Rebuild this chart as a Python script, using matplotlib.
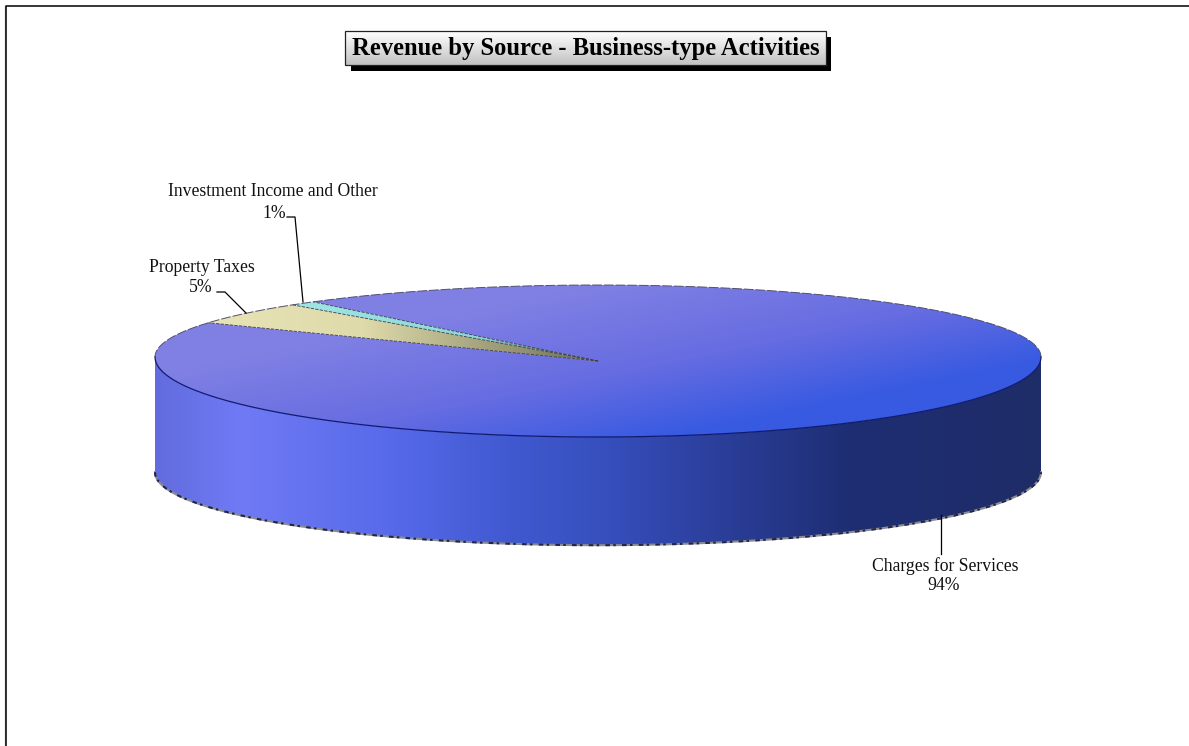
import numpy as np
from matplotlib import pyplot as plt
from matplotlib.patches import Polygon, Rectangle

labels = ['Charges for Services', 'Property Taxes', 'Investment Income and Other']
values = [94, 5, 1]
title = 'Revenue by Source - Business-type Activities'

# pie geometry in pixels, y grows downwards
# the near half of the ellipse is a bit deeper than the far half (perspective)
cx, cy = 598, 357
rx = 443
ry_far, ry_near = 72, 80
apex = [598, 361]
rim_cy, rim_ry = 472, 73
end_angle = 130.0  # where the charges slice begins

serif = ['Liberation Serif', 'DejaVu Serif']


def ramp(t, stops, cols):
    return np.stack([np.interp(t, stops, [c[i] for c in cols]) for i in range(3)], axis=-1) / 255.0


def arc(a0, a1, n=200):
    a = np.radians(np.linspace(a0, a1, n))
    s = np.sin(a)
    return np.column_stack([cx + rx * np.cos(a), cy - np.where(s > 0, ry_far, ry_near) * s])


def rim_arc(n=400):
    a = np.radians(np.linspace(180, 360, n))
    return np.column_stack([cx + rx * np.cos(a), rim_cy - rim_ry * np.sin(a)])


def paint(img, extent, poly):
    im = ax.imshow(img, extent=extent, aspect='auto', interpolation='bilinear', zorder=2)
    patch = Polygon(poly, closed=True, transform=ax.transData, facecolor='none', edgecolor='none')
    ax.add_patch(patch)
    im.set_clip_path(patch)


fig = plt.figure(figsize=(11.89, 7.46), dpi=100)
ax = fig.add_axes([0, 0, 1, 1])
ax.set_xlim(0, 1189)
ax.set_ylim(746, 0)
ax.axis('off')

# chart frame, only the top and left edges fall inside the image
ax.plot([4.5, 4.5], [6, 746], color='#b8b8b8', lw=1.0, zorder=1)
ax.plot([5.5, 5.5, 1189], [746, 5.5, 5.5], color='black', lw=1.1, zorder=1)

# side wall, shaded left to right
xs = np.linspace(cx - rx, cx + rx, 400)
wall_x = [155, 240, 400, 500, 600, 700, 850, 1041]
wall_cols = [(98, 108, 222), (112, 122, 245), (85, 105, 232), (66, 90, 210),
             (55, 80, 190), (45, 65, 160), (30, 46, 115), (30, 44, 104)]
wall_img = ramp(xs, wall_x, wall_cols)[None, :, :]
front = arc(180, 360)
rim = rim_arc()
wall = np.vstack([front, rim[::-1]])
paint(wall_img, (cx - rx, cx + rx, rim_cy + rim_ry, cy - ry_far), wall)

# bottom rim, a rough grey and dark edge
ax.plot(rim[:, 0], rim[:, 1] + 0.2, color='#8c8c8c', lw=1.5, zorder=3)
ax.plot(rim[:, 0], rim[:, 1] + 0.2, color='#1c2458', lw=1.5, ls=(0, (2.2, 1.6, 1.2, 3.0)), zorder=3)

# slice angles from the values
sweeps = np.array(values) / sum(values) * 360.0
start_inv = end_angle
stop_inv = start_inv + sweeps[2]
stop_tax = stop_inv + sweeps[1]

yy, xx = np.mgrid[0:1:200j, 0:1:500j]
top_cols = [(128, 128, 228), (102, 108, 225), (55, 90, 225)]
top_img = ramp(np.clip((1.2 * xx + yy - 0.6) / 1.1, 0, 1), [0, 0.55, 1], top_cols)
extent = (cx - rx, cx + rx, cy + ry_near, cy - ry_far)
centre = [apex]
paint(top_img, extent, np.vstack([centre, arc(stop_tax, end_angle + 360, 500)]))

# the two small slices lighten towards the rim
tax_cols = [(232, 228, 182), (222, 218, 170), (110, 110, 84)]
paint(ramp(np.tile(np.linspace(0, 1, 300), (10, 1)), [0, 0.4, 1], tax_cols),
      (cx - rx * 0.88, cx, cy + 5, cy - ry_far), np.vstack([centre, arc(stop_inv, stop_tax, 60)]))
inv_cols = [(160, 230, 230), (140, 215, 215), (70, 90, 80)]
paint(ramp(np.tile(np.linspace(0, 1, 300), (10, 1)), [0, 0.6, 1], inv_cols),
      (cx - rx * 0.7, cx, cy + 5, cy - ry_far), np.vstack([centre, arc(start_inv, stop_inv, 20)]))

# slice edges
edge = '#3c3c48'
for a in (start_inv, stop_inv, stop_tax):
    p = arc(a, a, 2)[0]
    ax.plot([apex[0], p[0]], [apex[1], p[1]], color=edge, lw=0.6, ls=(0, (4, 1.5)), zorder=4)
back = arc(0, 180, 300)
ax.plot(back[:, 0], back[:, 1], color='#50506e', lw=0.7, ls=(0, (10, 2)), zorder=4)
ax.plot(front[:, 0], front[:, 1], color='#101a70', lw=0.9, zorder=4)

# leader lines
ax.plot([287, 295, 303], [217, 217, 302], color='black', lw=0.9, zorder=5)
ax.plot([217, 225, 246], [292, 292, 313], color='black', lw=0.9, zorder=5)
ax.plot([941, 941], [515, 554], color='black', lw=0.9, zorder=5)

# data labels
pct = [f'{v}%' for v in values]
lab = dict(family=serif, fontsize=12.7, ha='center', va='center', color='#111111', zorder=6)
ax.text(945, 566, labels[0], **lab)
ax.text(944, 586, pct[0], **lab)
ax.text(202, 267, labels[1], **lab)
ax.text(201, 287, pct[1], **lab)
ax.text(273, 191, labels[2], **lab)
ax.text(274, 213, pct[2], **lab)

# title box with drop shadow
ax.add_patch(Rectangle((351, 37), 480, 34, facecolor='black', edgecolor='none', zorder=6))
grey = np.linspace(1, 0, 50)[:, None, None] * (1.0 - 0.76) + 0.76
ax.imshow(np.tile(grey, (1, 2, 3)), extent=(345, 826, 65, 31), aspect='auto', zorder=7)
ax.add_patch(Rectangle((345, 31), 481, 34, facecolor='none', edgecolor='#222222', lw=0.9, zorder=8))
ax.text(586, 48, title, family=serif, fontsize=17.7, fontweight='bold', ha='center', va='center', zorder=9)

ax.set_xlim(0, 1189)
ax.set_ylim(746, 0)
fig.savefig('out.png', dpi=100)
